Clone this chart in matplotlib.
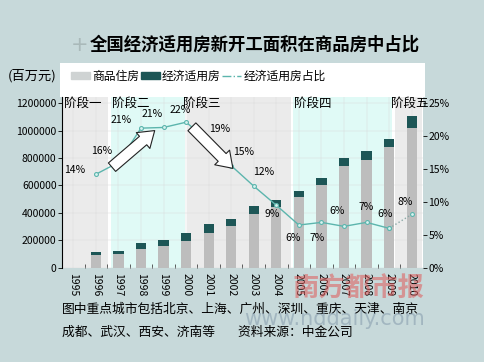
import matplotlib
matplotlib.use("Agg")
import matplotlib.pyplot as plt
import numpy as np
from matplotlib.patches import Rectangle, FancyArrowPatch, Patch
from matplotlib.lines import Line2D

plt.rcParams["font.family"] = ["Noto Sans CJK SC", "DejaVu Sans"]

# 数据（从原图读取，单位：百万元 / %）
years = [str(y) for y in range(1995, 2011)]
total_area = [0, 116000, 121000, 179000, 201000, 252000, 318000, 356000,
              448000, 495000, 560000, 657000, 798000, 851000, 936000, 1105000]
affordable = [0, 24000, 19000, 43000, 43000, 58000, 63000, 53000,
              58000, 49000, 41000, 53000, 56000, 66000, 58000, 89000]
ratio = [np.nan, 14.2, 16.0, 21.2, 21.3, 22.1, 19.2, 15.5,
         12.4, 9.5, 6.5, 6.9, 6.3, 6.9, 6.0, 8.1]
ratio_labels = ["", "14%", "16%", "21%", "21%", "22%", "19%", "15%",
                "12%", "9%", "6%", "7%", "6%", "7%", "6%", "8%"]
stages = ["阶段一", "阶段二", "阶段三", "阶段四", "阶段五"]
stage_edges = [-0.5, 1.6, 5.0, 9.7, 14.2, 15.5]

commercial = [t - a for t, a in zip(total_area, affordable)]

BG = "#c7d9da"
GREY_BAR = "#bdbdbd"
DARK_BAR = "#1d5656"
LINE_C = "#5cb5ad"

fig = plt.figure(figsize=(4.85, 3.62), dpi=100, facecolor=BG)

# 图例白底
fig.patches.append(Rectangle((0.124, 0.732), 0.753, 0.094, transform=fig.transFigure,
                             facecolor="white", edgecolor="none", zorder=-1))

ax = fig.add_axes([0.128, 0.26, 0.744, 0.472])

x = np.arange(len(years))
stage_colors = ["#ebebeb", "#e0faf6", "#ebebeb", "#e0faf6", "#ebebeb"]
stage_label_dx = [0.1, 0.1, -0.15, 0.1, -0.1]
for i, name in enumerate(stages):
    x0, x1 = stage_edges[i], stage_edges[i + 1]
    ax.axvspan(x0 + 0.06, x1 - 0.06, color=stage_colors[i], zorder=0, lw=0)
    ax.text(x0 + stage_label_dx[i], 1.195e6, name, fontsize=9, va="center",
            ha="left", zorder=6)
ax.set_facecolor("white")
ax.grid(True, color="#d8d8d8", lw=0.3, zorder=0.5)
ax.set_axisbelow(True)

ax.bar(x, commercial, width=0.45, color=GREY_BAR, zorder=2)
ax.bar(x, affordable, width=0.45, bottom=commercial, color=DARK_BAR, zorder=2)

ax.set_xlim(-0.5, 15.5)
ax.set_ylim(0, 1.244e6)
ax.set_yticks(np.arange(0, 1200001, 200000))
ax.set_yticklabels([str(v) for v in range(0, 1200001, 200000)], fontsize=7.5)
ax.set_xticks(x)
ax.set_xticklabels(years, rotation=-90, fontsize=7.5)
ax.set_xticks(x[:-1] + 0.5, minor=True)
ax.tick_params(axis="x", which="major", length=0, pad=4)
ax.tick_params(axis="x", which="minor", length=3, direction="in", color="#444444")
ax.tick_params(axis="y", length=3, width=0.6, pad=1)
for s in ["top", "right", "bottom"]:
    ax.spines[s].set_visible(False)
ax.spines["left"].set_linewidth(0.8)

ax2 = ax.twinx()
ax2.set_ylim(0, 25.92)
ax2.set_yticks(np.arange(0, 26, 5))
ax2.set_yticklabels([f"{v}%" for v in range(0, 26, 5)], fontsize=7.5)
ax2.tick_params(axis="y", length=3, width=0.6, pad=1)
for s in ax2.spines.values():
    s.set_visible(False)

r = np.array(ratio)
ax2.plot(x[:15], r[:15], color=LINE_C, lw=1, marker="o", ms=2.8,
         mfc="#d8f3f0", mec=LINE_C, mew=0.8, zorder=4)
ax2.plot(x[14:], r[14:], color="#8aa9a6", lw=1, ls=":", marker="o", ms=2.8,
         mfc="#d8f3f0", mec=LINE_C, mew=0.8, zorder=4)

offsets = [(0, 0), (-15, 3), (-12, 8), (-14, 6), (-8, 10), (-4, 9), (8, 9), (9, 10),
           (7, 10), (-3, -6), (-4, -9), (-3, -11), (-5, 11), (0, 11), (-3, 10), (-5, 9)]
for xi, val, lab, off in zip(x, r, ratio_labels, offsets):
    if lab:
        ax2.annotate(lab, (xi, val), xytext=off, textcoords="offset points",
                     ha="center", va="center", fontsize=7.5, zorder=6)

# 趋势箭头
for start, end in [((1.62, 15.0), (3.7, 21.1)), ((5.17, 21.7), (7.16, 14.8))]:
    arr = FancyArrowPatch(start, end,
                          arrowstyle="simple,head_length=11,head_width=15,tail_width=8",
                          facecolor="white", edgecolor="#222222", lw=0.8, zorder=5)
    ax2.add_patch(arr)

# 图例
handles = [Patch(color="#cfd3d3", label="商品住房"),
           Patch(color=DARK_BAR, label="经济适用房"),
           Line2D([0], [0], color=LINE_C, lw=1, ls="-.", label="经济适用房占比")]
fig.legend(handles=handles, loc="center left", bbox_to_anchor=(0.125, 0.79), ncol=3,
           frameon=False, fontsize=8.5, handlelength=1.6, handleheight=0.5,
           handletextpad=0.2, columnspacing=0.1)
fig.text(0.015, 0.79, "(百万元)", fontsize=9.5, va="center", ha="left")

# 标题
fig.text(0.165, 0.876, "+", fontsize=15, color="#a9b9b9", va="center", ha="center",
         family="DejaVu Sans")
fig.text(0.185, 0.876, "全国经济适用房新开工面积在商品房中占比", fontsize=12.5,
         fontweight="bold", va="center", ha="left")

# 注释
fig.text(0.128, 0.145, "图中重点城市包括北京、上海、广州、深圳、重庆、天津、南京",
         fontsize=9.2, va="center", ha="left")
fig.text(0.128, 0.083, "成都、武汉、西安、济南等        资料来源：中金公司",
         fontsize=9.2, va="center", ha="left")

# 水印
fig.text(0.74, 0.2, "南方都市报", fontsize=19, color="#e05a5a", alpha=0.55,
         va="center", ha="center", fontweight="bold", zorder=10)
fig.text(0.69, 0.12, "www.nddaily.com", fontsize=15, color="#8aa0b0", alpha=0.6,
         va="center", ha="center", zorder=10, family="DejaVu Sans")

fig.savefig("out.png", dpi=100, facecolor=BG)
